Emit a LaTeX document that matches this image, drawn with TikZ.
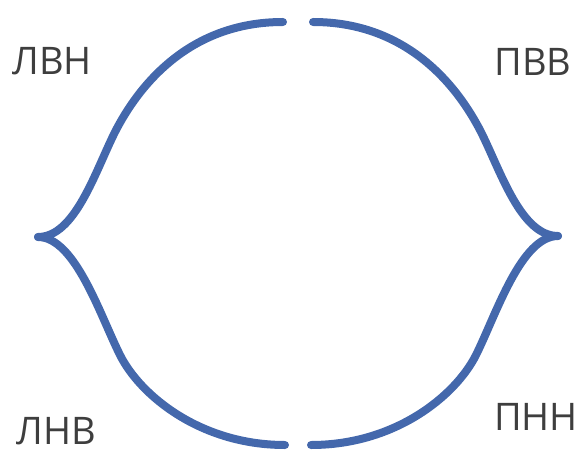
\documentclass[tikz,border=0pt]{standalone}
\usepackage{fontspec}
\setmainfont{Open Sans}
\usepackage{xcolor}
\definecolor{braceblue}{RGB}{68,104,172}
\definecolor{labelgray}{RGB}{62,62,62}
\usetikzlibrary{positioning}

\begin{document}
\begin{tikzpicture}[x=1pt, y=-1pt,
    bracearm/.style={draw=braceblue, line width=8pt, line cap=round},
    cornerlabel/.style={font=\fontsize{38}{40}\selectfont, text=labelgray, inner sep=0pt}]
  \useasboundingbox (0,0) rectangle (585,454);
  % Brace end points
  \coordinate (lefttop) at (283,22);
  \coordinate (leftup) at (115,132);
  \coordinate (lefttip) at (38,237);
  \coordinate (leftdown) at (120,355);
  \coordinate (leftbot) at (285,445);
  \coordinate (righttop) at (313,22);
  \coordinate (rightup) at (481,132);
  \coordinate (righttip) at (558,236);
  \coordinate (rightdown) at (476,355);
  \coordinate (rightbot) at (311,445);
  % Left brace
  \draw[bracearm] (lefttop) .. controls +(-95,0) and +(23,-45) .. (leftup)
    .. controls +(-20,40) and +(37,0) .. (lefttip);
  \draw[bracearm] (lefttip) .. controls +(37,0) and +(-20,-40) .. (leftdown)
    .. controls +(20,40) and +(-85,0) .. (leftbot);
  % Right brace
  \draw[bracearm] (righttop) .. controls +(95,0) and +(-23,-45) .. (rightup)
    .. controls +(20,40) and +(-37,0) .. (righttip);
  \draw[bracearm] (righttip) .. controls +(-37,0) and +(20,-40) .. (rightdown)
    .. controls +(-20,40) and +(85,0) .. (rightbot);
  % Corner labels
  \node[cornerlabel] (lvn) at (52,61) {ЛВН};
  \node[cornerlabel] (pvv) at (533,62) {ПВВ};
  \node[cornerlabel] (lnv) at (56,431) {ЛНВ};
  \node[cornerlabel] (pnn) at (536,417) {ПНН};
\end{tikzpicture}
\end{document}
